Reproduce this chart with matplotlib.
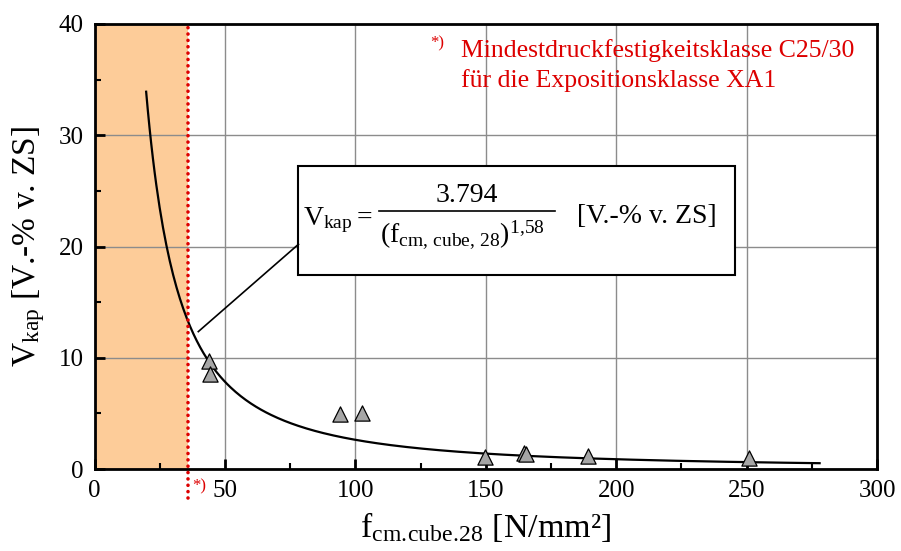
import numpy as np
import matplotlib
matplotlib.use("Agg")
import matplotlib.pyplot as plt
from matplotlib.patches import Rectangle

plt.rcParams["font.family"] = ["Liberation Serif", "DejaVu Serif"]
plt.rcParams["mathtext.fontset"] = "custom"
plt.rcParams["mathtext.rm"] = "Liberation Serif"
plt.rcParams["mathtext.it"] = "Liberation Serif"

# Measured capillary porosity vs. mean cube compressive strength
f_cm = [43.8, 44.3, 94.3, 102.7, 149.7, 164.6, 165.5, 189.2, 250.8]
v_kap = [9.7, 8.5, 4.9, 5.05, 1.05, 1.4, 1.35, 1.15, 0.95]

# Fit: V_kap = a / f^b
coef_a = 3794.0
coef_b = 1.58
f_fit_min, f_fit_max = 19.8, 278.0

# Minimum strength class limit (C25/30)
f_limit = 36.0

x_ticks = [0, 50, 100, 150, 200, 250, 300]
y_ticks = [0, 10, 20, 30, 40]

fig = plt.figure(figsize=(9.01, 5.51), dpi=100)
ax = fig.add_axes([94.5 / 901, 1 - 469 / 551, (877 - 94.5) / 901, (469 - 24) / 551])
ax.set_xlim(0, 300)
ax.set_ylim(0, 40)

ax.axvspan(0, f_limit, color="#FDCC99", zorder=0, lw=0)
ax.grid(True, which="major", color="#8c8c8c", lw=1.0, zorder=1)
ax.set_axisbelow(True)

ax.plot([f_limit, f_limit], [-2.6, 40], color="#DD0000", lw=2.6,
        linestyle=(0, (0.01, 1.75)), dash_capstyle="round", clip_on=False, zorder=5)

f_line = np.linspace(f_fit_min, f_fit_max, 400)
ax.plot(f_line, coef_a / f_line ** coef_b, color="black", lw=1.6, zorder=3)

ax.scatter(f_cm, v_kap, marker="^", s=120, facecolor="#A6A6A6",
           edgecolor="black", linewidth=0.9, zorder=4)

ax.set_xticks(x_ticks)
ax.set_yticks(y_ticks)
ax.set_xticks(np.arange(25, 300, 50), minor=True)
ax.set_yticks(np.arange(5, 40, 10), minor=True)
ax.tick_params(which="major", direction="in", length=7, width=2, labelsize=18, pad=8)
ax.tick_params(which="minor", direction="in", length=4, width=1.5)
for s in ax.spines.values():
    s.set_linewidth(2)

ax.set_xlabel(r"$\mathrm{f}_{\mathrm{cm.\!cube.\!28}}$ [N/mm²]", fontsize=24.5, labelpad=6)
ax.set_ylabel(r"$\mathrm{V}_{\mathrm{kap}}$ [V.-% v. ZS]", fontsize=24, labelpad=8)

# Footnote for the strength-class limit
red = "#DD0000"
ax.text(128.7, 37.9, "*)", color=red, fontsize=12, ha="left", va="baseline")
ax.text(140.6, 37.05, "Mindestdruckfestigkeitsklasse C25/30", color=red,
        fontsize=18.5, ha="left", va="baseline")
ax.text(140.6, 34.35, "für die Expositionsklasse XA1", color=red,
        fontsize=18.5, ha="left", va="baseline")
ax.text(f_limit + 1.3, -1.9, "*)", color=red, fontsize=12, ha="left",
        va="baseline", clip_on=False)

# Equation box with leader line
box_x0, box_x1 = 78.2, 245.4
box_y0, box_y1 = 17.45, 27.25
ax.add_patch(Rectangle((box_x0, box_y0), box_x1 - box_x0, box_y1 - box_y0,
                       facecolor="white", edgecolor="black", lw=1.5, zorder=6))
ax.plot([39.8, box_x0], [12.35, 20.2], color="black", lw=1.2, zorder=6)

ax.text(80.0, 21.9, r"$\mathrm{V}_{\mathrm{kap}}$", fontsize=20, ha="left",
        va="baseline", zorder=7)
ax.text(100.6, 21.9, "=", fontsize=20, ha="left", va="baseline", zorder=7)
ax.plot([109.0, 176.5], [23.15, 23.15], color="black", lw=1.2, zorder=7)
ax.text(142.7, 24.0, f"{coef_a / 1000:.3f}", fontsize=20, ha="center",
        va="baseline", zorder=7)
ax.text(109.5, 20.4,
        r"$(\mathrm{f}_{\mathrm{cm,\,cube,\,28}})^{\mathrm{1{,}58}}$",
        fontsize=20, ha="left", va="baseline", zorder=7)
ax.text(185.0, 22.1, "[V.-% v. ZS]", fontsize=20, ha="left", va="baseline", zorder=7)

fig.savefig("out.png", dpi=100)
